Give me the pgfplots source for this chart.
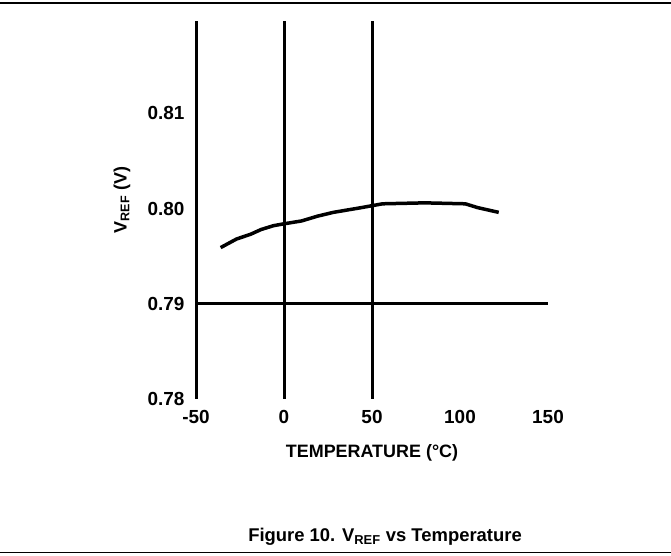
\documentclass[border=0pt]{standalone}
\usepackage{fontspec}
\setmainfont{Liberation Sans}
\usepackage{pgfplots}
\pgfplotsset{compat=1.18}
\pgfplotstableread{
x y
-36 0.7959
-32 0.7963
-27 0.7968
-19 0.7973
-13 0.7978
-6 0.7982
0 0.7984
10 0.7987
19 0.7992
28 0.7996
44 0.8001
56 0.8005
80 0.8006
103 0.8005
110 0.8001
122 0.7996
}\vref
\begin{document}
\begin{tikzpicture}[x=1bp,y=1bp]
\useasboundingbox (0,0) rectangle (671,556);
\draw[line width=1.2bp] (0,553) -- (671,553);
\draw[line width=1.2bp] (0,3.5) -- (671,3.5);
\begin{axis}[
  at={(196bp,157bp)}, anchor=south west,
  scale only axis, width=352bp, height=378bp,
  xmin=-50, xmax=150, ymin=0.78, ymax=0.8197,
  xtick={-50,0,50,100,150},
  ytick={0.78,0.79,0.80,0.81},
  yticklabel style={/pgf/number format/fixed,/pgf/number format/precision=2,/pgf/number format/zerofill},
  /pgf/number format/assume math mode=true,
  axis line style={draw=none},
  major tick length=0pt,
  tick label style={font=\bfseries\fontsize{19}{19}\selectfont},
  xticklabel style={yshift=-8bp},
  yticklabel style={xshift=-8bp},
  xlabel={TEMPERATURE (°C)},
  ylabel={V\textsubscript{REF} (V)},
  label style={font=\bfseries\fontsize{18}{18}\selectfont},
  xlabel style={at={(axis description cs:0.5,-0.143)}, anchor=center},
  ylabel style={at={(axis description cs:-0.21,0.526)}, anchor=center},
  clip=false,
]
\draw[line width=3bp] (axis cs:-50,0.78) -- (axis cs:-50,0.8197);
\draw[line width=3bp] (axis cs:0,0.78) -- (axis cs:0,0.8197);
\draw[line width=3bp] (axis cs:50,0.78) -- (axis cs:50,0.8197);
\draw[line width=3bp] (axis cs:-50,0.79) -- (axis cs:150,0.79);
\addplot[black, line width=3.5bp, no marks] table[x=x,y=y] {\vref};
\end{axis}
\node[font=\bfseries\fontsize{18.5}{18.5}\selectfont] at (385,19) {Figure 10. V\textsubscript{REF} vs Temperature};
\end{tikzpicture}
\end{document}
